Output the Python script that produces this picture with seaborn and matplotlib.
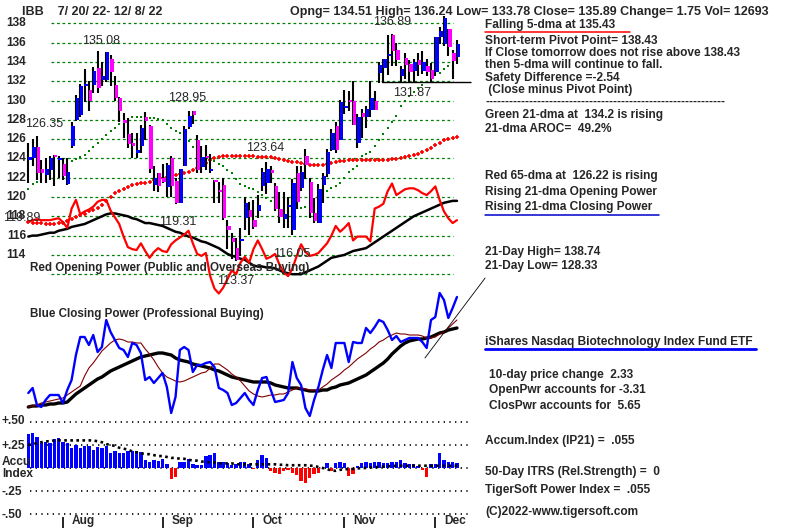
import numpy as np
import pandas as pd
import matplotlib
matplotlib.use('Agg')
import matplotlib.pyplot as plt
import seaborn as sns

# ---------------------------------------------------------------
# IBB daily bars, 7/20/22 - 12/8/22
# ---------------------------------------------------------------
opens = [123.8, 124.0, 125.2, 122.9, 122.3, 122.8, 124.4, 123.8, 123.4, 121.3,
         125.3, 128.0, 128.5, 131.5, 131.1, 131.6, 133.4, 132.1, 132.1, 134.3,
         131.6, 130.3, 128.0, 126.5, 125.6, 124.6, 125.3, 128.3, 127.4, 121.2,
         122.5, 122.0, 121.0, 124.0, 121.7, 119.4, 123.2, 127.3, 128.9, 125.9,
         123.1, 124.2, 122.7, 121.8, 120.7, 121.2, 117.0, 115.7, 114.7, 115.4,
         117.8, 118.7, 117.6, 118.5, 121.1, 121.4, 122.8, 121.1, 118.8, 117.7,
         119.0, 116.6, 122.5, 120.9, 124.2, 121.6, 118.3, 117.3, 121.2, 122.4,
         124.9, 127.4, 125.9, 129.2, 130.1, 129.9, 125.6, 128.7, 128.3, 129.0,
         129.9, 132.8, 133.4, 134.6, 136.8, 135.2, 132.5, 134.4, 133.8, 133.1,
         134.2, 133.1, 133.6, 133.2, 133.0, 136.6, 135.9, 137.4, 134.9, 134.51]
highs = [125.6, 126.0, 126.35, 123.8, 124.0, 124.2, 124.4, 124.2, 124.0, 124.0,
         127.8, 130.6, 131.7, 133.3, 132.0, 133.5, 135.08, 134.0, 135.0, 134.7,
         132.5, 130.4, 128.7, 128.2, 126.6, 126.6, 127.5, 128.8, 127.5, 123.2,
         122.5, 123.4, 123.5, 124.3, 122.0, 122.9, 127.4, 128.95, 128.9, 126.4,
         125.3, 125.4, 124.5, 121.8, 121.6, 122.0, 117.6, 116.3, 115.8, 116.8,
         120.0, 119.5, 119.7, 120.2, 123.0, 123.64, 123.2, 121.5, 120.5, 120.5,
         120.0, 121.9, 123.2, 123.2, 125.0, 122.0, 119.9, 121.3, 122.5, 125.0,
         127.0, 127.8, 130.1, 131.1, 131.0, 132.0, 128.6, 129.1, 129.4, 132.0,
         131.0, 134.0, 134.3, 136.8, 136.89, 136.0, 133.6, 134.9, 134.2, 134.3,
         134.9, 135.1, 134.3, 133.9, 136.6, 137.6, 138.74, 137.4, 135.2, 136.24]
lows = [121.5, 123.2, 121.8, 121.4, 121.5, 121.8, 121.1, 122.0, 121.8, 121.2,
        125.1, 127.9, 128.3, 129.8, 128.9, 130.8, 130.8, 131.5, 131.9, 131.5,
        130.0, 127.8, 126.1, 125.1, 124.0, 124.0, 124.6, 125.9, 122.5, 120.6,
        120.5, 121.5, 120.0, 120.0, 119.31, 119.35, 123.2, 127.0, 127.6, 122.5,
        122.5, 122.8, 122.5, 119.4, 119.4, 117.6, 114.6, 113.6, 113.37, 113.9,
        116.6, 116.1, 116.7, 117.8, 120.6, 120.3, 121.5, 118.5, 117.3, 116.8,
        116.8, 116.05, 118.8, 120.6, 121.9, 117.8, 117.3, 117.3, 119.4, 122.1,
        124.8, 124.6, 125.9, 128.6, 128.9, 127.5, 125.1, 126.1, 127.2, 128.3,
        129.0, 131.8, 131.8, 132.6, 133.6, 133.6, 131.9, 132.2, 131.87, 131.9,
        132.5, 132.7, 132.5, 131.9, 132.5, 135.9, 135.6, 134.6, 132.2, 133.78]
closes = [124.1, 125.2, 122.5, 122.5, 122.9, 124.0, 124.1, 124.0, 122.2, 122.6,
          127.4, 130.3, 131.5, 131.6, 129.9, 133.1, 131.3, 132.5, 135.0, 133.0,
          130.3, 128.9, 127.7, 125.5, 125.3, 124.9, 127.1, 127.9, 122.9, 122.0,
          121.1, 121.6, 123.3, 121.1, 119.4, 122.9, 127.0, 128.4, 128.5, 122.8,
          124.1, 124.0, 122.9, 121.6, 120.5, 117.8, 116.6, 115.3, 113.5, 115.6,
          119.4, 117.9, 116.9, 119.2, 122.6, 122.9, 122.5, 118.8, 117.9, 118.2,
          119.1, 121.4, 119.5, 122.6, 123.3, 118.3, 117.5, 120.8, 122.2, 124.7,
          126.6, 124.9, 129.8, 129.4, 129.8, 127.5, 128.3, 128.3, 129.1, 130.3,
          129.0, 133.7, 134.3, 134.8, 135.1, 134.2, 133.3, 133.7, 133.0, 134.0,
          133.7, 134.0, 133.0, 132.2, 136.6, 137.2, 138.5, 135.5, 134.14, 135.89]

# green 21-dma and red 65-dma of price
ma21 = [120.8, 121.3, 121.6, 121.8, 122.0, 122.2, 122.5, 122.8, 123.1, 123.4,
        123.7, 123.9, 124.1, 124.4, 124.8, 125.2, 125.6, 126.0, 126.4, 126.8,
        127.2, 127.6, 127.9, 128.1, 128.3, 128.3, 128.3, 128.3, 128.2, 128.2,
        128.1, 128.0, 127.6, 127.1, 126.8, 126.6, 126.3, 125.8, 125.2, 124.9,
        124.5, 124.2, 124.0, 123.7, 123.4, 123.2, 122.8, 122.5, 121.9, 121.3,
        121.1, 120.9, 120.8, 120.5, 120.2, 119.9, 119.6, 119.4, 119.2, 119.1,
        119.0, 118.9, 118.9, 118.9, 119.0, 119.1, 119.2, 119.4, 120.0, 120.6,
        120.9, 121.1, 121.4, 122.0, 122.6, 122.9, 123.2, 124.2, 124.5, 124.7,
        125.3, 125.9, 126.5, 127.1, 127.8, 128.4, 129.4, 129.9, 130.5, 130.9,
        131.3, 131.6, 131.9, 132.2, 132.6, 132.9, 133.3, 133.6, 133.9, 134.2]
ma65 = [117.4, 117.3, 117.3, 117.3, 117.2, 117.2, 117.2, 117.3, 117.3, 117.5,
        117.7, 117.9, 118.1, 118.2, 118.5, 118.7, 118.9, 119.2, 119.6, 120.0,
        120.4, 120.6, 120.8, 121.0, 121.2, 121.3, 121.4, 121.5, 121.6, 121.8,
        121.9, 122.0, 122.1, 122.2, 122.3, 122.4, 122.5, 122.6, 122.8, 123.0,
        123.3, 123.5, 123.8, 124.0, 124.1, 124.2, 124.2, 124.2, 124.2, 124.2,
        124.2, 124.2, 124.2, 124.1, 124.1, 124.1, 124.1, 124.0, 123.9, 123.8,
        123.7, 123.6, 123.6, 123.5, 123.4, 123.3, 123.3, 123.3, 123.3, 123.4,
        123.5, 123.6, 123.7, 123.7, 123.8, 123.8, 123.8, 123.8, 123.8, 123.8,
        123.8, 123.8, 123.8, 123.8, 123.9, 123.9, 124.0, 124.1, 124.2, 124.4,
        124.5, 124.7, 124.9, 125.1, 125.4, 125.6, 125.9, 126.0, 126.1, 126.22]

# red Opening Power and its black average (drawn on the price scale)
open_power = [117.4, 117.6, 117.7, 117.6, 117.6, 117.6, 117.7, 117.8, 117.4, 116.8,
              118.8, 119.7, 118.2, 118.5, 118.7, 119.0, 119.5, 119.7, 119.7, 118.6,
              117.9, 117.2, 115.9, 114.8, 114.6, 114.5, 115.2, 114.4, 113.7, 114.3,
              114.7, 114.4, 114.3, 115.1, 115.5, 115.8, 116.1, 116.5, 115.2, 114.1,
              113.9, 114.2, 111.8, 110.5, 110.0, 110.6, 111.5, 112.4, 112.0, 113.2,
              113.8, 113.2, 114.6, 115.5, 114.6, 113.6, 113.8, 114.1, 113.0, 112.2,
              111.8, 112.6, 113.9, 115.1, 114.3, 113.9, 114.0, 114.2, 114.7, 115.2,
              116.0, 117.0, 116.4, 116.8, 117.3, 115.5, 115.9, 115.9, 115.9, 115.4,
              118.8, 119.0, 119.3, 120.6, 121.4, 120.2, 120.5, 120.8, 120.9, 120.9,
              120.7, 120.4, 120.2, 120.6, 121.1, 119.7, 118.5, 117.8, 117.3, 117.6]
open_power_ma = [115.9, 116.0, 116.0, 116.1, 116.2, 116.3, 116.3, 116.5, 116.6, 116.7,
                 116.9, 117.0, 117.1, 117.2, 117.4, 117.6, 117.8, 118.0, 118.2, 118.3,
                 118.3, 118.2, 118.1, 118.0, 117.8, 117.7, 117.5, 117.3, 117.3, 117.2,
                 117.1, 117.0, 116.8, 116.6, 116.4, 116.3, 116.1, 115.9, 115.8, 115.6,
                 115.4, 115.3, 115.1, 114.9, 114.7, 114.4, 114.1, 113.9, 113.8, 113.6,
                 113.5, 113.2, 112.9, 112.8, 112.8, 112.7, 112.7, 112.6, 112.4, 112.2,
                 112.1, 112.0, 112.0, 112.0, 112.2, 112.4, 112.6, 112.8, 113.1, 113.4,
                 113.7, 113.8, 113.9, 114.0, 114.2, 114.4, 114.5, 114.6, 114.7, 115.0,
                 115.3, 115.6, 115.9, 116.2, 116.5, 116.8, 117.1, 117.4, 117.7, 118.0,
                 118.2, 118.4, 118.6, 118.8, 119.0, 119.2, 119.4, 119.5, 119.6, 119.6]

# blue Closing Power with its thin 21-dma and thick 65-dma (chart units)
close_power = [27, 32, 15, 13, 20, 25, 25, 25, 17, 30,
               40, 65, 83, 83, 75, 85, 68, 73, 100, 88,
               80, 72, 70, 63, 77, 75, 67, 40, 43, 37,
               42, 47, 33, 7, 23, 70, 73, 70, 48, 55,
               55, 57, 58, 53, 32, 30, 27, 15, 17, 22,
               27, 20, 15, 30, 42, 43, 30, 18, 19, 20,
               27, 58, 42, 35, 12, 4, 20, 33, 50, 65,
               52, 77, 77, 77, 58, 78, 77, 77, 92, 87,
               93, 100, 98, 90, 80, 84, 78, 80, 82, 82,
               82, 78, 72, 100, 103, 127, 120, 102, 112, 123]
close_power_ma21 = [13, 14, 15, 17, 18, 19, 20, 21, 22, 25,
                    28, 31, 34, 44, 52, 57, 63, 69, 73, 77,
                    80, 81, 80, 78, 78, 77, 77, 71, 66, 60,
                    53, 47, 43, 41, 39, 38, 39, 41, 43, 45,
                    47, 48, 52, 56, 56, 53, 50, 46, 43, 39,
                    34, 29, 26, 24, 23, 24, 25, 25, 26, 26,
                    28, 30, 32, 32, 31, 30, 30, 30, 33, 36,
                    40, 43, 46, 50, 53, 57, 61, 64, 67, 71,
                    74, 78, 80, 83, 85, 87, 86, 86, 85, 85,
                    85, 84, 82, 82, 83, 86, 88, 92, 96, 100]
close_power_ma65 = [13, 14, 14, 15, 15, 16, 16, 17, 17, 18,
                    22, 26, 29, 32, 35, 38, 41, 43, 46, 49,
                    51, 53, 55, 57, 59, 61, 63, 64, 65, 66,
                    67, 67, 66, 65, 62, 60, 59, 58, 56, 55,
                    54, 53, 52, 50, 49, 47, 45, 43, 42, 41,
                    40, 39, 38, 38, 38, 38, 37, 35, 34, 33,
                    32, 32, 32, 31, 30, 29, 29, 29, 30, 30,
                    32, 33, 35, 36, 37, 39, 41, 43, 45, 48,
                    51, 54, 57, 61, 66, 70, 74, 77, 79, 80,
                    81, 81, 82, 83, 85, 87, 88, 90, 91, 92]
trend_days = [91.6, 105.5]
trend_vals = [62, 142]

# Accumulation Index (IP21) and its dotted average
accum_index = [0.37, 0.38, 0.34, 0.275, 0.28, 0.27, 0.32, 0.33, 0.28, 0.27,
               0.22, 0.25, 0.22, 0.235, 0.24, 0.20, 0.23, 0.22, 0.235, 0.16,
               0.18, 0.16, 0.16, 0.18, 0.18, 0.19, 0.17, 0.09, 0.07, 0.09,
               0.08, 0.10, 0.04, -0.12, -0.10, 0.06, 0.07, 0.10, 0.04, 0.03,
               0.03, 0.13, 0.14, 0.16, 0.07, 0.07, 0.05, 0.03, 0.04, 0.06,
               0.07, 0.04, -0.01, 0.09, 0.145, 0.11, -0.035, -0.05, -0.07, -0.035,
               -0.02, -0.05, -0.08, -0.14, -0.16, -0.11, -0.07, -0.05, 0.0, 0.05,
               -0.035, 0.05, 0.07, 0.05, -0.09, -0.06, 0.02, 0.055, 0.07, 0.055,
               0.06, 0.07, 0.055, 0.055, 0.06, 0.06, 0.085, 0.055, 0.04, 0.04,
               0.02, -0.02, -0.10, 0.04, 0.04, 0.16, 0.09, 0.06, 0.06, 0.055]
accum_ma = [0.25, 0.26, 0.27, 0.28, 0.29, 0.29, 0.30, 0.30, 0.30, 0.30,
            0.30, 0.30, 0.30, 0.30, 0.30, 0.30, 0.29, 0.28, 0.26, 0.25,
            0.24, 0.22, 0.21, 0.20, 0.18, 0.17, 0.16, 0.15, 0.15, 0.14,
            0.13, 0.13, 0.12, 0.11, 0.11, 0.10, 0.10, 0.09, 0.08, 0.08,
            0.07, 0.07, 0.06, 0.06, 0.05, 0.05, 0.05, 0.05, 0.04, 0.04,
            0.04, 0.04, 0.04, 0.04, 0.04, 0.04, 0.04, 0.04, 0.035, 0.035,
            0.03, 0.03, 0.03, 0.03, 0.03, 0.025, 0.025, 0.01, 0.0, -0.01,
            -0.03, -0.03, -0.02, -0.015, -0.01, -0.01, -0.005, 0.0, 0.0, 0.005,
            0.01, 0.01, 0.015, 0.02, 0.02, 0.025, 0.025, 0.025, 0.025, 0.025,
            0.025, 0.025, 0.025, 0.025, 0.025, 0.025, 0.025, 0.025, 0.025, 0.025]

month_names = ['Aug', 'Sep', 'Oct', 'Nov', 'Dec']
month_starts = [8, 31, 52, 73, 94]
price_ticks = [138, 136, 134, 132, 130, 128, 126, 124, 122, 120, 118, 116, 114]
grid_prices = price_ticks + [112]
ai_levels = [0.5, 0.25, 0.0, -0.25, -0.5]
support_level = 131.87

# (label, x px, y px) value tags printed on the price panel
price_tags = [('135.08', 101, 41), ('128.95', 187, 98), ('123.64', 265, 148),
              ('136.89', 392, 22), ('119.31', 178, 222), ('116.05', 292, 254),
              ('113.37', 236, 281), ('131.87', 412, 93), ('126.35', 44, 124)]

header_left = 'IBB    7/ 20/ 22- 12/ 8/ 22'
header_right = 'Opng= 134.51 High= 136.24 Low= 133.78 Close= 135.89 Change= 1.75 Vol= 12693'

side_notes = [
    ('Falling 5-dma at 135.43', 485, 25),
    ('Short-term Pivot Point= 138.43', 485, 41),
    ('If Close tomorrow does not rise above 138.43', 485, 53),
    ('then 5-dma will continue to fall.', 485, 65),
    ('Safety Difference =-2.54', 485, 78),
    (' (Close minus Pivot Point)', 485, 90),
    ('-' * 60, 485, 102),
    ('Green 21-dma at  134.2 is rising', 485, 115),
    ('21-dma AROC=  49.2%', 485, 129),
    ('Red 65-dma at  126.22 is rising', 485, 176),
    ('Rising 21-dma Opening Power', 485, 192),
    ('Rising 21-dma Closing Power', 485, 207),
    ('21-Day High= 138.74', 485, 252),
    ('21-Day Low= 128.33', 485, 266),
    ('iShares Nasdaq Biotechnology Index Fund ETF', 485, 342),
    ('10-day price change  2.33', 489, 375),
    ('OpenPwr accounts for -3.31', 489, 390),
    ('ClosPwr accounts for  5.65', 489, 406),
    ('Accum.Index (IP21) =  .055', 485, 441),
    ('50-Day ITRS (Rel.Strength) =  0', 485, 472),
    ('TigerSoft Power Index =  .055', 485, 490),
    ('(C)2022-www.tigersoft.com', 485, 512),
]
ai_labels = [('+.50', 421), ('+.25', 446), ('Accu', 462), ('Index', 474),
             ('-.25', 492), ('-.50', 515)]

BLUE, MAGENTA, RED, GREEN, DARKRED = '#0000FF', '#FF00FF', '#FF0000', '#008000', '#800000'

W, H = 800, 528
X0, DX = 28.3, 4.33      # x pixel of the first bar, pixels per trading day
Y138, PPT = 23.3, 9.65    # y pixel of price 138, pixels per point


def px_day(px):
    return (px - X0) / DX


def main():
    sns.set_theme(style='white')
    plt.rcParams['font.family'] = ['Liberation Sans', 'DejaVu Sans']

    fig = plt.figure(figsize=(W / 100, H / 100), dpi=100)
    fig.patch.set_facecolor('white')

    def panel(top, bottom):
        ax = fig.add_axes([0, 1 - bottom / H, 1, (bottom - top) / H])
        ax.set_xlim(px_day(0), px_day(W))
        ax.axis('off')
        ax.patch.set_alpha(0)
        return ax

    days = np.arange(len(closes))
    o, hi, lo, c = map(np.array, (opens, highs, lows, closes))

    # ---- price panel
    ax_p = panel(0, 300)
    ax_p.set_ylim(138 - (300 - Y138) / PPT, 138 + Y138 / PPT)
    ax_p.hlines(grid_prices, px_day(51), px_day(453), colors=GREEN,
                linestyles=(0, (2.2, 2.2)), lw=0.9, zorder=1)

    sns.lineplot(x=days, y=open_power_ma, color='black', lw=1.8, ax=ax_p, legend=False, zorder=2)
    sns.lineplot(x=days, y=open_power, color=RED, lw=1.6, ax=ax_p, legend=False, zorder=2)
    ax_p.plot(days, ma65, ls='none', marker='+', ms=3.4, mew=1.2, color=RED, zorder=2)
    ax_p.plot(days, ma21, ls='none', marker='s', ms=1.9, mew=0, color=GREEN, zorder=2)

    ax_p.vlines(days, lo, hi, color='black', lw=1.5, zorder=3)
    bottoms = np.minimum(o, c)
    heights = np.maximum(np.abs(c - o), 0.18)
    body_cols = [BLUE if cl >= op else MAGENTA for op, cl in zip(o, c)]
    ax_p.bar(days + 0.35, heights, bottom=bottoms, width=0.78, color=body_cols,
             linewidth=0, zorder=4)
    ax_p.hlines(support_level, px_day(382), px_day(471), colors='black', lw=1, zorder=4)

    for p in price_ticks:
        ax_p.text(px_day(26), p, str(p), ha='right', va='center',
                  fontsize=8.6, fontweight='bold')

    # ---- closing power panel
    ax_cp = panel(282, 422)
    ax_cp.set_ylim(-2, 138)
    sns.lineplot(x=days, y=close_power_ma65, color='black', lw=2.4, ax=ax_cp, legend=False)
    sns.lineplot(x=days, y=close_power_ma21, color=DARKRED, lw=0.8, ax=ax_cp, legend=False)
    sns.lineplot(x=days, y=close_power, color=BLUE, lw=1.7, ax=ax_cp, legend=False)
    ax_cp.plot(trend_days, trend_vals, color='black', lw=0.6, clip_on=False)

    # ---- accumulation index panel
    ax_ai = panel(420, 528)
    ax_ai.set_ylim((468 - 528) / 92, (468 - 420) / 92)
    ax_ai.hlines(ai_levels, px_day(30), px_day(472), colors='black',
                 linestyles=(0, (0.8, 2.6)), lw=1.2, zorder=1)
    ai = np.array(accum_index)
    ax_ai.bar(days, ai, width=0.78, color=[BLUE if v >= 0 else RED for v in ai],
              linewidth=0, zorder=2)
    ax_ai.plot(days, accum_ma, color='black', ls=(0, (1, 1.3)), lw=1.9, zorder=3)
    tick_lo, tick_hi = (468 - 528) / 92, (468 - 517) / 92
    ax_ai.vlines(month_starts, tick_lo, tick_hi, color='black', lw=1.2)
    for m, name in zip(month_starts, month_names):
        ax_ai.text(m + 2.0, (468 - 521) / 92, name, ha='left', va='center',
                   fontsize=8.6, fontweight='bold')

    # ---- text overlay in pixel units
    ax_t = fig.add_axes([0, 0, 1, 1])
    ax_t.set_xlim(0, W)
    ax_t.set_ylim(H, 0)
    ax_t.axis('off')
    ax_t.patch.set_alpha(0)

    ax_t.text(22, 12, header_left, ha='left', va='center', fontsize=9, fontweight='bold')
    ax_t.text(290, 12, header_right, ha='left', va='center', fontsize=9, fontweight='bold')

    for label, x, y in price_tags:
        ax_t.text(x, y, label, ha='center', va='center', fontsize=9)
    ax_t.text(3, 218, '119.89', ha='left', va='center', fontsize=9)

    ax_t.text(30, 268, 'Red Opening Power (Public and Overseas Buying)',
              ha='left', va='center', fontsize=8.4, fontweight='bold')
    ax_t.text(30, 314, 'Blue Closing Power (Professional Buying)',
              ha='left', va='center', fontsize=8.4, fontweight='bold')

    for label, x, y in side_notes:
        ax_t.text(x, y, label, ha='left', va='center', fontsize=8.6, fontweight='bold')
    ax_t.plot([485, 630], [32, 32], color=RED, lw=1.1)
    ax_t.plot([485, 659], [215, 215], color='#0000CC', lw=1.1)
    ax_t.plot([485, 756], [349, 349], color=BLUE, lw=2)

    for label, y in ai_labels:
        ax_t.text(2, y, label, ha='left', va='center', fontsize=8.6, fontweight='bold')

    fig.savefig('out.png', dpi=100, facecolor='white')
    plt.close(fig)


if __name__ == '__main__':
    main()
